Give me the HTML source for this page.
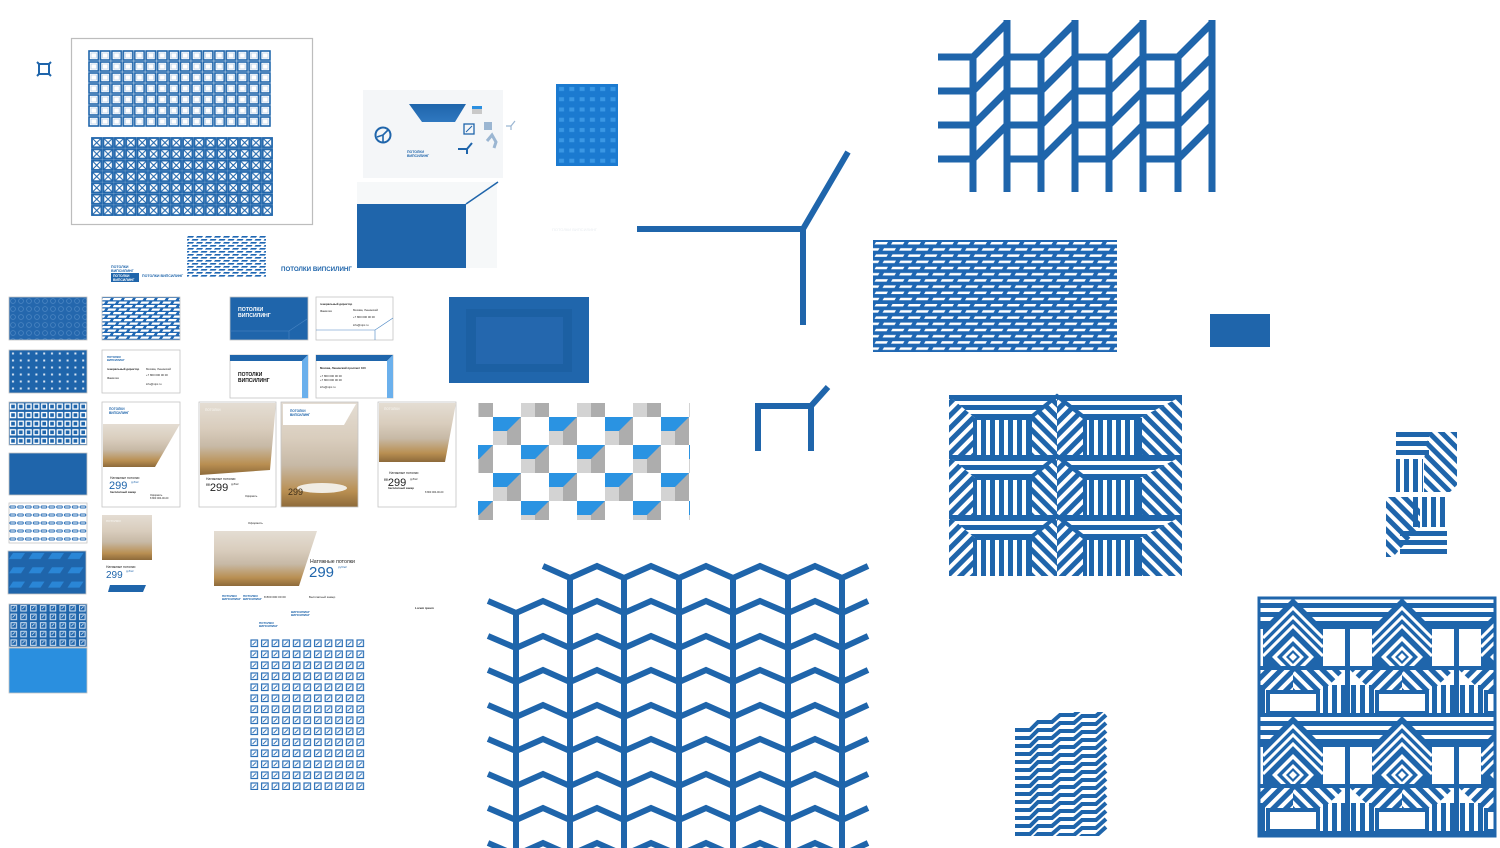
<!DOCTYPE html>
<html><head><meta charset="utf-8"><style>
html,body{margin:0;padding:0;background:#fff;}
svg{display:block;font-family:"Liberation Sans","DejaVu Sans",sans-serif;}
</style></head><body>
<svg width="1500" height="848" viewBox="0 0 1500 848" xmlns="http://www.w3.org/2000/svg">
<defs>
  <pattern id="hs" width="10" height="9" patternUnits="userSpaceOnUse"><rect width="10" height="5" fill="#1f65ab"/></pattern>
  <pattern id="vs" width="9" height="10" patternUnits="userSpaceOnUse"><rect width="5" height="10" fill="#1f65ab"/></pattern>
  <pattern id="d1" width="9" height="9" patternUnits="userSpaceOnUse" patternTransform="rotate(45)"><rect width="5" height="9" fill="#1f65ab"/></pattern>
  <pattern id="d2" width="9" height="9" patternUnits="userSpaceOnUse" patternTransform="rotate(-45)"><rect width="5" height="9" fill="#1f65ab"/></pattern>
  <pattern id="dash" x="873" y="240" width="16.5" height="12.4" patternUnits="userSpaceOnUse">
    <rect width="16.5" height="12.4" fill="#1f67b3"/>
    <polygon points="3,2 15,2 13.5,4.5 1.5,4.5" fill="#fff"/>
    <polygon points="11,8.2 23,8.2 21.5,10.7 9.5,10.7" fill="#fff"/>
    <polygon points="-5.5,8.2 6.5,8.2 5,10.7 -7,10.7" fill="#fff"/>
  </pattern>
  <pattern id="dashs" x="187" y="235" width="9" height="6" patternUnits="userSpaceOnUse">
    <polygon points="1,1 7,1 6,2.6 0,2.6" fill="#1f67b3"/><polygon points="5.5,4 11.5,4 10.5,5.6 4.5,5.6" fill="#1f67b3"/><polygon points="-3.5,4 2.5,4 1.5,5.6 -4.5,5.6" fill="#1f67b3"/>
  </pattern>
  <pattern id="dashb" x="102" y="297" width="11" height="7" patternUnits="userSpaceOnUse">
    <rect width="11" height="7" fill="#1f67b3"/>
    <polygon points="1,1 9,1 7.5,3.2 -0.5,3.2" fill="#fff"/><polygon points="6.5,4.5 14.5,4.5 13,6.7 5,6.7" fill="#fff"/><polygon points="-4.5,4.5 3.5,4.5 2,6.7 -6,6.7" fill="#fff"/>
  </pattern>
  <pattern id="grid1" x="88" y="50" width="11.44" height="11" patternUnits="userSpaceOnUse">
    <rect x="1" y="1" width="9.4" height="9" fill="none" stroke="#1f65ab" stroke-width="1.6"/>
    <rect x="3" y="3" width="5.4" height="5" fill="none" stroke="#a9c6e4" stroke-width="0.6"/>
  </pattern>
  <pattern id="grid2" x="91" y="137" width="11.38" height="11.3" patternUnits="userSpaceOnUse">
    <rect x="1" y="1" width="9.4" height="9.3" fill="none" stroke="#1f65ab" stroke-width="1.8"/>
    <path d="M2,2 L9.4,9.3 M9.4,2 L2,9.3" stroke="#1f65ab" stroke-width="1.1"/>
  </pattern>
  <pattern id="t1" x="9" y="297" width="8" height="8" patternUnits="userSpaceOnUse"><rect width="8" height="8" fill="#2467ad"/><circle cx="4" cy="4" r="2.4" fill="none" stroke="#4c86c2" stroke-width="0.8"/></pattern>
  <pattern id="t2" x="9" y="350" width="7.8" height="7" patternUnits="userSpaceOnUse"><rect width="7.8" height="7" fill="#1f65ab"/><rect x="3" y="2.5" width="2" height="2" fill="#d5e3f2"/></pattern>
  <pattern id="t3" x="9" y="402" width="7.8" height="8.6" patternUnits="userSpaceOnUse"><rect width="7.8" height="8.6" fill="#1f65ab"/><rect x="1.5" y="2" width="5" height="5" fill="none" stroke="#fff" stroke-width="1.3"/></pattern>
  <pattern id="t5" x="9" y="503" width="7.8" height="8" patternUnits="userSpaceOnUse"><rect width="7.8" height="8" fill="#fff"/><path d="M1,3 H6.5 M1,5 H6.5 M1,3 V5 M6.5,3 V5" stroke="#2b6fb6" stroke-width="1"/></pattern>
  <pattern id="t6" x="9" y="551" width="19.5" height="14.3" patternUnits="userSpaceOnUse"><rect width="19.5" height="14.3" fill="#1f65ab"/><polygon points="4,2 16,2 12,8 0,8" fill="#2a86d6"/></pattern>
  <pattern id="t7" x="9" y="604" width="9.8" height="8.6" patternUnits="userSpaceOnUse"><rect width="9.8" height="8.6" fill="#1f65ab"/><rect x="2" y="1.5" width="5.5" height="5.5" fill="none" stroke="#d6e4f3" stroke-width="1"/><path d="M3.5,5 L6,2.5" stroke="#d6e4f3" stroke-width="0.8"/></pattern>
  <pattern id="ic" x="249" y="638" width="10.6" height="11" patternUnits="userSpaceOnUse"><rect x="2" y="2" width="6.5" height="6.5" fill="none" stroke="#2b6fb6" stroke-width="1.2"/><path d="M3.5,7 L7,3.5" stroke="#2b6fb6" stroke-width="0.9"/></pattern>
  <pattern id="bl" x="556" y="84" width="10.3" height="10.25" patternUnits="userSpaceOnUse"><rect width="10.3" height="10.25" fill="#1b7ad0"/><rect x="3" y="3" width="5" height="4" fill="#3a97e4"/></pattern>
  <linearGradient id="photo" x1="0" y1="0" x2="0" y2="1">
    <stop offset="0" stop-color="#e4ddd3"/><stop offset="0.35" stop-color="#d9cdbd"/><stop offset="0.6" stop-color="#c7b9a6"/><stop offset="0.85" stop-color="#b98f52"/><stop offset="1" stop-color="#8d6a3a"/>
  </linearGradient>
  <linearGradient id="trap" x1="0" y1="0" x2="0" y2="1"><stop offset="0" stop-color="#1f65ab"/><stop offset="1" stop-color="#2f78c0"/></linearGradient>
  <polyline id="chev" points="488,-12 516,0 543,-12 570,0 597,-12 624,0 651,-12 679,0 706,-12 733,0 760,-12 788,0 815,-12 842,0 868,-12" fill="none" stroke="#1f65ab" stroke-width="6"/>
  <g id="cube">
    <rect x="0" y="0" width="28" height="14" fill="#2a93e2"/>
    <rect x="0" y="14" width="14" height="14" fill="#d3d3d3"/>
    <polygon points="14,14 28,0 28,28 14,28" fill="#adadad"/>
  </g>
  <clipPath id="ck"><rect x="478" y="403" width="212" height="117"/></clipPath>
  <clipPath id="wv"><rect x="1015" y="712" width="94" height="124"/></clipPath>
  <clipPath id="bp"><rect x="1258" y="597" width="238" height="240"/></clipPath>
</defs>

<!-- small icon -->
<g stroke="#1f65ab" stroke-width="2" fill="none"><rect x="39" y="64" width="10" height="10"/><path d="M37,62 L40,65 M51,62 L48,65 M37,76 L40,73 M51,76 L48,73"/></g>

<!-- framed grid box -->
<rect x="71.5" y="38.5" width="241" height="186" fill="#fff" stroke="#bdbdbd" stroke-width="1.2"/>
<rect x="88" y="50" width="183" height="77" fill="url(#grid1)"/>
<rect x="91" y="137" width="182" height="79" fill="url(#grid2)"/>

<!-- card with icons -->
<rect x="363" y="90" width="140" height="88" fill="#f4f6f8"/>
<polygon points="409,104 466,104 455,122 422,122" fill="url(#trap)"/>
<circle cx="383" cy="135" r="7.5" fill="none" stroke="#1f65ab" stroke-width="2"/>
<path d="M383,135 L388,130 M383,135 L383,142 M383,135 L377,137" stroke="#1f65ab" stroke-width="1.6"/>
<rect x="472" y="106" width="10" height="8" fill="#c9c9c9"/><rect x="472" y="106" width="10" height="3" fill="#2a8fe0"/>
<rect x="464" y="124" width="10" height="10" fill="none" stroke="#1f65ab" stroke-width="1.3"/><path d="M466,132 L472,126" stroke="#1f65ab"/>
<rect x="484" y="122" width="8" height="8" fill="#9bb6d2"/>
<path d="M458,149 L467,149 L472,143 M467,149 L467,154" stroke="#1f65ab" stroke-width="2" fill="none"/>
<path d="M487,141 L492,135 L496,142 L494,148" stroke="#9bb6d2" stroke-width="3" fill="none"/>
<path d="M506,126 L511,126 L515,121 M511,126 L511,130" stroke="#9bb6d2" stroke-width="1.2" fill="none"/>
<text x="407" y="153" font-size="3.5" font-weight="bold" fill="#1f65ab">ПОТОЛКИ</text>
<text x="407" y="157" font-size="3.5" font-weight="bold" fill="#1f65ab">ВИПСИЛИНГ</text>

<!-- box -->
<rect x="357" y="182" width="140" height="86" fill="#f6f8f9"/>
<rect x="357" y="204" width="109" height="64" fill="#1f65ab"/>
<line x1="466" y1="204" x2="498" y2="182" stroke="#1f65ab" stroke-width="1.5"/>
<text x="552" y="231" font-size="4" fill="#e8ecf0">ПОТОЛКИ ВИПСИЛИНГ</text>

<!-- blue pattern tile -->
<rect x="556" y="84" width="62" height="82" fill="url(#bl)"/>

<!-- small dash tile + logos -->
<rect x="187" y="235" width="79" height="43" fill="url(#dashs)"/>
<text x="111" y="268" font-size="3.6" font-weight="bold" fill="#1f65ab">ПОТОЛКИ</text>
<text x="111" y="272" font-size="3.6" font-weight="bold" fill="#1f65ab">ВИПСИЛИНГ</text>
<rect x="111" y="273" width="28" height="9" fill="#1f65ab"/>
<text x="113" y="277" font-size="3.4" font-weight="bold" fill="#fff">ПОТОЛКИ</text>
<text x="113" y="281" font-size="3.4" font-weight="bold" fill="#fff">ВИПСИЛИНГ</text>
<text x="142" y="277" font-size="3.6" font-weight="bold" fill="#1f65ab">ПОТОЛКИ ВИПСИЛИНГ</text>
<text x="281" y="271" font-size="6.2" font-weight="bold" fill="#1f65ab">ПОТОЛКИ ВИПСИЛИНГ</text>

<!-- left column tiles -->
<g stroke="#c4c4c4" stroke-width="0.8">
<rect x="9" y="297" width="78" height="43" fill="url(#t1)"/>
<rect x="9" y="350" width="78" height="43" fill="url(#t2)"/>
<rect x="9" y="402" width="78" height="43" fill="url(#t3)"/>
<rect x="9" y="453" width="78" height="42" fill="#1f65ab"/>
<rect x="9" y="503" width="78" height="40" fill="url(#t5)"/>
<rect x="8" y="551" width="78" height="43" fill="url(#t6)"/>
<rect x="9" y="604" width="78" height="43" fill="url(#t7)"/>
<rect x="9" y="648" width="78" height="45" fill="#2a8fdf"/>
<rect x="102" y="297" width="78" height="43" fill="url(#dashb)"/>
<rect x="102" y="350" width="78" height="43" fill="#fff"/>
</g>
<g font-size="2.8" fill="#222">
<text x="107" y="358" fill="#1f65ab" font-weight="bold">ПОТОЛКИ</text><text x="107" y="361" fill="#1f65ab" font-weight="bold">ВИПСИЛИНГ</text>
<text x="107" y="370" font-weight="bold">генеральный директор</text><text x="107" y="379">Фамилия</text>
<text x="146" y="370">Москва, Ленинский</text><text x="146" y="376">+7 800 000 00 00</text><text x="146" y="385">info@vipc.ru</text>
</g>

<!-- business cards -->
<rect x="230" y="297" width="78" height="43" fill="#1f65ab" stroke="#c4c4c4" stroke-width="0.8"/>
<text x="238" y="311" font-size="5.2" font-weight="bold" fill="#fff">ПОТОЛКИ</text>
<text x="238" y="317" font-size="5.2" font-weight="bold" fill="#fff">ВИПСИЛИНГ</text>
<path d="M230,331 L289,331 L307,319 M289,331 L289,340" stroke="#4a86c4" stroke-width="0.6" fill="none"/>
<rect x="316" y="297" width="77" height="43" fill="#fff" stroke="#c4c4c4" stroke-width="0.8"/>
<path d="M316,330 L375,330 L393,318 M375,330 L375,340" stroke="#4a86c4" stroke-width="0.6" fill="none"/>
<g font-size="2.8" fill="#222"><text x="320" y="305" font-weight="bold">генеральный директор</text><text x="320" y="312">Фамилия</text><text x="353" y="311">Москва, Ленинский</text><text x="353" y="318">+7 800 000 00 00</text><text x="353" y="326">info@vipc.ru</text></g>
<rect x="230" y="355" width="78" height="43" fill="#fff" stroke="#c4c4c4" stroke-width="0.8"/>
<polygon points="230,355 308,355 302,361 230,361" fill="#1f65ab"/><polygon points="302,361 308,355 308,398 302,398" fill="#6bb0ec"/>
<text x="238" y="376" font-size="5" font-weight="bold" fill="#111">ПОТОЛКИ</text><text x="238" y="382" font-size="5" font-weight="bold" fill="#111">ВИПСИЛИНГ</text>
<rect x="316" y="355" width="77" height="43" fill="#fff" stroke="#c4c4c4" stroke-width="0.8"/>
<polygon points="316,355 393,355 387,361 316,361" fill="#1f65ab"/><polygon points="387,361 393,355 393,398 387,398" fill="#6bb0ec"/>
<g font-size="2.8" fill="#222"><text x="320" y="369" font-weight="bold">Москва, Ленинский проспект 100</text><text x="320" y="377">+7 800 000 00 00</text><text x="320" y="381">+7 800 000 00 00</text><text x="320" y="388">info@vipc.ru</text></g>

<!-- posters -->
<rect x="102" y="402" width="78" height="105" fill="#fff" stroke="#c4c4c4" stroke-width="0.8"/>
<polygon points="103,424 180,424 155,467 103,467" fill="url(#photo)"/>
<text x="109" y="410" font-size="3.2" font-weight="bold" fill="#1f65ab">ПОТОЛКИ</text><text x="109" y="414" font-size="3.2" font-weight="bold" fill="#1f65ab">ВИПСИЛИНГ</text>
<text x="110" y="479" font-size="3.4" fill="#222">Натяжные потолки</text>
<text x="109" y="489" font-size="11" fill="#1f65ab">299</text><text x="131" y="483" font-size="2.6" fill="#1f65ab">руб/м²</text>
<text x="110" y="493" font-size="2.8" font-weight="bold" fill="#222">бесплатный замер</text>
<text x="150" y="496" font-size="2.5" fill="#222">Оформить</text><text x="150" y="499" font-size="2.5" fill="#222">8 800 000-00-00</text>

<rect x="199" y="402" width="77" height="105" fill="#fff" stroke="#c4c4c4" stroke-width="0.8"/>
<polygon points="200,403 276,403 270,470 200,475" fill="url(#photo)"/>
<text x="205" y="411" font-size="3.2" font-weight="bold" fill="#f3f0ea">ПОТОЛКИ</text>
<text x="206" y="480" font-size="3.4" fill="#222">Натяжные потолки</text>
<text x="206" y="491" font-size="11" fill="#222">"299</text><text x="231" y="485" font-size="2.6" fill="#222">руб/м²</text>
<text x="245" y="497" font-size="2.5" fill="#222">Оформить</text>

<rect x="281" y="402" width="77" height="105" fill="url(#photo)" stroke="#c4c4c4" stroke-width="0.8"/>
<polygon points="283,404 356,404 344,425 283,425" fill="#fff"/>
<text x="290" y="412" font-size="3.2" font-weight="bold" fill="#1f65ab">ПОТОЛКИ</text><text x="290" y="416" font-size="3.2" font-weight="bold" fill="#1f65ab">ВИПСИЛИНГ</text>
<ellipse cx="322" cy="488" rx="25" ry="5" fill="#f0ece4"/>
<text x="288" y="495" font-size="9" fill="#3d2e1a">299</text>

<rect x="378" y="402" width="78" height="105" fill="#fff" stroke="#c4c4c4" stroke-width="0.8"/>
<polygon points="379,403 456,403 445,462 379,462" fill="url(#photo)"/>
<text x="384" y="410" font-size="3.2" font-weight="bold" fill="#f3f0ea">ПОТОЛКИ</text>
<text x="389" y="474" font-size="3.4" fill="#222">Натяжные потолки</text>
<text x="384" y="486" font-size="11" fill="#222">"299</text><text x="410" y="480" font-size="2.6" fill="#222">руб/м²</text>
<text x="388" y="489" font-size="2.8" font-weight="bold" fill="#222">бесплатный замер</text>
<text x="425" y="493" font-size="2.5" fill="#222">8 800 000-00-00</text>

<rect x="102" y="515" width="50" height="45" fill="url(#photo)"/>
<text x="106" y="522" font-size="3" font-weight="bold" fill="#f3f0ea">ПОТОЛКИ</text>
<text x="106" y="568" font-size="3.4" fill="#222">Натяжные потолки</text>
<text x="106" y="578" font-size="10" fill="#1f65ab">299</text><text x="126" y="572" font-size="2.6" fill="#1f65ab">руб/м²</text>
<polygon points="110,585 146,585 143,592 108,592" fill="#1f65ab"/>

<!-- banner -->
<text x="248" y="524" font-size="3" fill="#222">Оформить</text>
<polygon points="214,531 317,531 299,586 214,586" fill="url(#photo)"/>
<text x="310" y="563" font-size="5.2" fill="#222">Натяжные потолки</text>
<text x="309" y="577" font-size="15" fill="#1f65ab">299</text><text x="338" y="568" font-size="3" fill="#1f65ab">руб/м²</text>
<g font-size="3" font-weight="bold" fill="#1f65ab"><text x="222" y="597">ПОТОЛКИ</text><text x="222" y="600">ВИПСИЛИНГ</text><text x="243" y="597">ПОТОЛКИ</text><text x="243" y="600">ВИПСИЛИНГ</text><text x="291" y="613">ВИПСИЛИНГ</text><text x="291" y="616">ВИПСИЛИНГ</text><text x="259" y="624">ПОТОЛКИ</text><text x="259" y="627">ВИПСИЛИНГ</text></g>
<text x="264" y="598" font-size="3" fill="#222">8 800 000 00 00</text>
<text x="309" y="598" font-size="3" fill="#222">Бесплатный замер</text>
<text x="415" y="609" font-size="3" font-weight="bold" fill="#222">Lorem ipsum</text>
<rect x="249" y="638" width="117" height="152" fill="url(#ic)"/>

<!-- inset rect -->
<rect x="449" y="297" width="140" height="86" fill="#2066ac"/>
<rect x="466" y="309" width="106" height="63" fill="#1b5c9c" opacity="0.6"/>
<rect x="476" y="317" width="87" height="47" fill="#2467ae"/>

<!-- checker -->
<g clip-path="url(#ck)">
<use href="#cube" x="465" y="389"/><use href="#cube" x="521" y="389"/><use href="#cube" x="577" y="389"/><use href="#cube" x="633" y="389"/><use href="#cube" x="689" y="389"/>
<use href="#cube" x="493" y="417"/><use href="#cube" x="549" y="417"/><use href="#cube" x="605" y="417"/><use href="#cube" x="661" y="417"/>
<use href="#cube" x="465" y="445"/><use href="#cube" x="521" y="445"/><use href="#cube" x="577" y="445"/><use href="#cube" x="633" y="445"/><use href="#cube" x="689" y="445"/>
<use href="#cube" x="493" y="473"/><use href="#cube" x="549" y="473"/><use href="#cube" x="605" y="473"/><use href="#cube" x="661" y="473"/>
<use href="#cube" x="465" y="501"/><use href="#cube" x="521" y="501"/><use href="#cube" x="577" y="501"/><use href="#cube" x="633" y="501"/><use href="#cube" x="689" y="501"/>
</g>

<!-- Y shape and Π -->
<g stroke="#1f65ab" stroke-width="6" fill="none">
<path d="M637,229 L803,229 L803,325 M803,229 L848,152"/>
<path d="M758,451 L758,406 L811,406 L811,451 M811,406 L828,387"/>
</g>

<!-- top-right grid -->
<g stroke="#1f65ab" stroke-width="7" fill="none">
<path d="M973,55 V192 M1041,55 V192 M1109,55 V192 M1178,55 V192 M1007,20 V192 M1075,20 V192 M1143,20 V192 M1212,20 V192"/>
<path d="M938,57 H973 M1007,57 H1041 M1075,57 H1109 M1143,57 H1178 M938,91 H973 M1007,91 H1041 M1075,91 H1109 M1143,91 H1178 M938,125 H973 M1007,125 H1041 M1075,125 H1109 M1143,125 H1178 M938,159 H973 M1007,159 H1041 M1075,159 H1109 M1143,159 H1178"/>
<g id="dg"><path d="M973,57 L1007,23 M973,91 L1007,57 M973,125 L1007,91 M973,159 L1007,125"/></g>
<use href="#dg" x="68"/><use href="#dg" x="136"/><use href="#dg" x="205"/>
</g>

<!-- dash pattern -->
<rect x="873" y="240" width="244" height="112" fill="url(#dash)"/>
<rect x="1210" y="314" width="60" height="33" fill="#1f65ab"/>

<!-- stripe module -->
<g id="srow">
<polygon points="949,396 1057,396 1030,418 975,418" fill="url(#hs)"/>
<polygon points="1057,396 1182,396 1140,418 1085,418" fill="url(#hs)"/>
<polygon points="949,396 975,418 975,456 949,456" fill="url(#d1)"/>
<rect x="975" y="418" width="55" height="38" fill="url(#vs)"/>
<polygon points="1030,418 1057,396 1057,456 1030,456" fill="url(#d2)"/>
<polygon points="1057,396 1085,418 1085,456 1057,456" fill="url(#d1)"/>
<rect x="1085" y="418" width="55" height="38" fill="url(#vs)"/>
<polygon points="1140,418 1182,396 1182,456 1140,456" fill="url(#d2)"/>
<path d="M949,397 H1182 M975,418 H1030 M1085,418 H1140 M1030,418 L1057,396 L1085,418 M975,418 V456 M1030,418 V456 M1085,418 V456 M1140,418 V456" stroke="#1f65ab" stroke-width="4" fill="none"/>
</g>
<use href="#srow" y="60"/><use href="#srow" y="120"/>

<!-- small stripe blocks -->
<rect x="1396" y="432" width="33" height="24" fill="url(#hs)"/>
<rect x="1396" y="459" width="27" height="33" fill="url(#vs)"/>
<polygon points="1429,432 1457,432 1457,485 1450,492 1424,492 1424,459" fill="url(#d2)"/>
<polygon points="1386,497 1410,497 1420,507 1420,527 1393,557 1386,557" fill="url(#d2)"/>
<rect x="1413" y="497" width="34" height="30" fill="url(#vs)"/>
<rect x="1400" y="531" width="47" height="26" fill="url(#hs)"/>

<!-- chevron grid -->
<g stroke="#1f65ab" stroke-width="6" fill="none">
<path d="M516,613 V848 M570,578 V848 M624,578 V848 M679,578 V848 M733,578 V848 M788,578 V848 M842,578 V848"/>
<polyline points="543,566 570,578 597,566 624,578 651,566 679,578 706,566 733,578 760,566 788,578 815,566 842,578 868,566"/>
</g>
<use href="#chev" transform="translate(0,613)"/><use href="#chev" transform="translate(0,648)"/><use href="#chev" transform="translate(0,682)"/><use href="#chev" transform="translate(0,717)"/><use href="#chev" transform="translate(0,751)"/><use href="#chev" transform="translate(0,786)"/><use href="#chev" transform="translate(0,820)"/><use href="#chev" transform="translate(0,855)"/>

<!-- wave block -->
<g clip-path="url(#wv)" stroke="#1f65ab" stroke-width="4" fill="none">
<g id="wl"><polyline points="1015,730 1030,730 1038,722 1052,722 1060,715 1074,715 1082,708 1096,708 1106,699"/></g>
<use href="#wl" y="8"/><use href="#wl" y="16"/><use href="#wl" y="24"/><use href="#wl" y="32"/><use href="#wl" y="40"/><use href="#wl" y="48"/><use href="#wl" y="56"/><use href="#wl" y="64"/><use href="#wl" y="72"/><use href="#wl" y="80"/><use href="#wl" y="88"/><use href="#wl" y="96"/><use href="#wl" y="104"/><use href="#wl" y="112"/><use href="#wl" y="120"/><use href="#wl" y="128"/>
</g>

<!-- big pattern -->
<g clip-path="url(#bp)">
<g id="bm">
<rect x="1238" y="597" width="110" height="28" fill="url(#hs)"/>
<path d="M1238,627 H1348 M1239,627 V715 M1347,627 V715 M1238,715 H1348" stroke="#1f65ab" stroke-width="4" fill="none"/>
<polygon points="1293,598 1323,628 1323,668 1263,668 1263,628" fill="#1f65ab"/>
<g stroke="#fff" stroke-width="3" fill="none">
<polyline points="1263,638 1293,608 1323,638"/>
<polyline points="1263,647 1293,617 1323,647"/>
<polyline points="1263,656 1293,626 1323,656"/>
</g>
<polygon points="1293,636 1314,657 1293,678 1272,657" fill="#fff"/>
<polygon points="1293,641 1309,657 1293,673 1277,657" fill="#1f65ab"/>
<polygon points="1293,646 1304,657 1293,668 1282,657" fill="#fff"/>
<polygon points="1293,650 1300,657 1293,664 1286,657" fill="#1f65ab"/>
<polygon points="1293,653 1297,657 1293,661 1289,657" fill="#fff"/>
<polygon points="1239,668 1293,668 1293,690 1262,690" fill="url(#d1)"/>
<polygon points="1293,668 1347,668 1324,690 1293,690" fill="url(#d2)"/>
<path d="M1239,668 H1347" stroke="#1f65ab" stroke-width="4"/>
<rect x="1241" y="685" width="24" height="30" fill="url(#vs)"/>
<rect x="1321" y="685" width="24" height="30" fill="url(#vs)"/>
<rect x="1268" y="692" width="50" height="21" fill="#fff" stroke="#1f65ab" stroke-width="4"/>
</g>
<use href="#bm" x="109"/><use href="#bm" x="218"/>
<use href="#bm" y="118"/><use href="#bm" x="109" y="118"/><use href="#bm" x="218" y="118"/>
</g>
<rect x="1259" y="598" width="236" height="238" fill="none" stroke="#1f65ab" stroke-width="3"/>
</svg>
</body></html>
